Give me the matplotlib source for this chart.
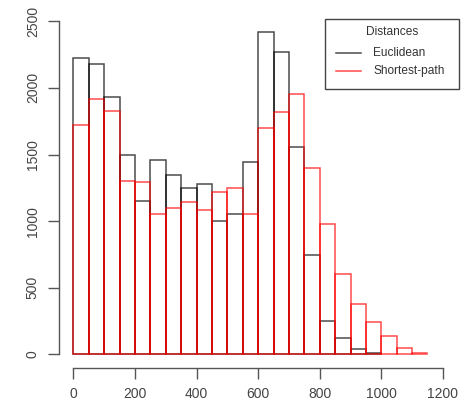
import numpy as np
import matplotlib.pyplot as plt
from matplotlib.patches import Rectangle
from matplotlib.lines import Line2D

# histogram counts, bin width 50
euclid_edges = np.arange(0, 1001, 50)
euclid_counts = [2225, 2180, 1934, 1494, 1153, 1459, 1348, 1246, 1281, 1003,
                 1051, 1446, 2420, 2272, 1559, 743, 252, 120, 40, 12]
short_edges = np.arange(0, 1151, 50)
short_counts = [1719, 1919, 1827, 1301, 1294, 1051, 1096, 1141, 1083, 1216,
                1246, 1051, 1697, 1819, 1952, 1401, 976, 605, 378, 240,
                137, 45, 10]
x_ticks = [0, 200, 400, 600, 800, 1000, 1200]
y_ticks = [0, 500, 1000, 1500, 2000, 2500]
series_names = ['Euclidean', 'Shortest-path']
series_colors = [(0, 0, 0, 0.7), (1, 0, 0, 0.7)]

plt.rcParams['font.family'] = ['Liberation Sans', 'DejaVu Sans']

W, H = 475, 404
fig = plt.figure(figsize=(W / 100, H / 100), dpi=100)
ax = fig.add_axes([0.1248, 0.0899, 0.8076, 0.8903])

ax.bar(euclid_edges[:-1], euclid_counts, width=50, align='edge', fill=False,
       edgecolor=series_colors[0], linewidth=1.1)
ax.bar(short_edges[:-1], short_counts, width=50, align='edge', fill=False,
       edgecolor=series_colors[1], linewidth=1.1)

ax.set_xlim(-46, 1196)
ax.set_ylim(-100, 2600)
ax.set_xticks(x_ticks)
ax.set_yticks(y_ticks)
ax.set_yticklabels([str(v) for v in y_ticks], rotation=90, va='center')
for s in ['top', 'right']:
    ax.spines[s].set_visible(False)
ax.spines['left'].set_bounds(0, 2500)
ax.spines['bottom'].set_bounds(0, 1200)
for s in ['left', 'bottom']:
    ax.spines[s].set_color('#555555')
    ax.spines[s].set_linewidth(1.0)
ax.tick_params(colors='#555555', labelcolor='#444444', length=8, width=1.0,
               labelsize=10, pad=6)

# legend box, drawn by hand in pixel coords (top-left origin)
def fx(px):
    return px / W

def fy(py):
    return 1 - py / H

fig.add_artist(Rectangle((fx(325), fy(89)), fx(459) - fx(325), fy(19) - fy(89),
                         transform=fig.transFigure, fill=False,
                         edgecolor='#444444', linewidth=1.0))
fig.text(fx(392), fy(32), 'Distances', ha='center', va='center',
         fontsize=8.6, color='#333333')
for i, (name, col) in enumerate(zip(series_names, series_colors)):
    yy = 53 + 18 * i
    fig.add_artist(Line2D([fx(336), fx(361)], [fy(yy), fy(yy)],
                          transform=fig.transFigure, color=col, lw=1.1))
    fig.text(fx(373), fy(yy), name, ha='left', va='center',
             fontsize=8.6, color='#333333')

fig.savefig('out.png', dpi=100)
